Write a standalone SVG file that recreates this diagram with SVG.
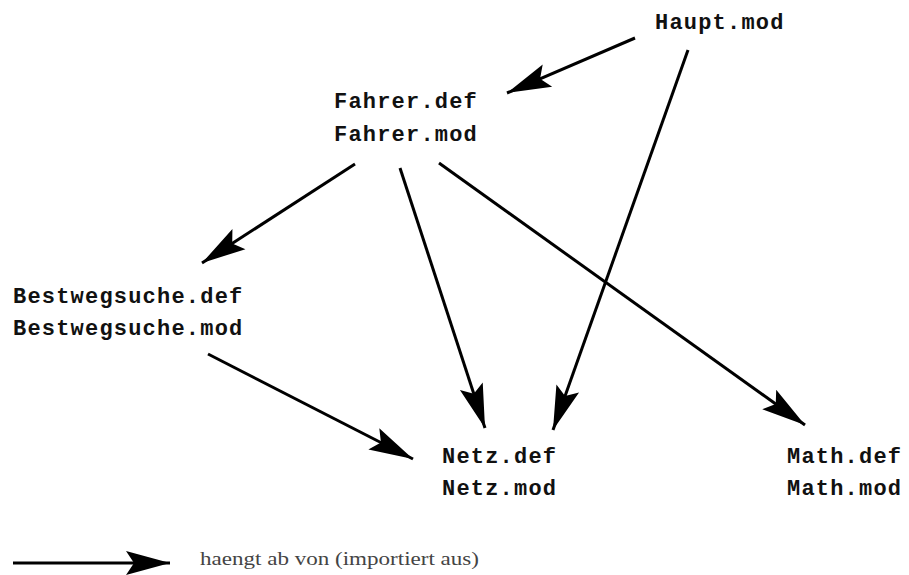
<svg xmlns="http://www.w3.org/2000/svg" width="909" height="575" viewBox="0 0 909 575">
<style>
.n{font-family:"Liberation Mono","Courier New",monospace;font-weight:bold;font-size:22px;letter-spacing:1.2px;fill:#111}
.c line{stroke:#000;stroke-width:3;marker-end:url(#ah)}
.lg{font-family:"Liberation Serif","DejaVu Serif",serif;font-size:19px;fill:#444}
</style>
<defs>
<marker id="ah" markerUnits="userSpaceOnUse" orient="auto" markerWidth="60" markerHeight="30" viewBox="-50 -15 60 30" refX="0" refY="0" overflow="visible">
<path d="M0,0 L-44,-12 L-36,0 L-44,12 Z" fill="#000"/>
</marker>
</defs>
<rect width="909" height="575" fill="#fff"/>
<g class="c" id="connectors">
<line x1="635" y1="38" x2="507" y2="93"/>
<line x1="688" y1="50" x2="553" y2="430"/>
<line x1="355" y1="164" x2="202" y2="263"/>
<line x1="400" y1="168" x2="485" y2="428"/>
<line x1="439" y1="163" x2="805" y2="425"/>
<line x1="208" y1="354" x2="413" y2="459"/>
</g>
<g id="haupt"><text class="n" x="655" y="29">Haupt.mod</text></g>
<g id="fahrer"><text class="n" x="334" y="108">Fahrer.def</text><text class="n" x="334" y="141">Fahrer.mod</text></g>
<g id="bestwegsuche"><text class="n" x="13" y="303">Bestwegsuche.def</text><text class="n" x="13" y="335">Bestwegsuche.mod</text></g>
<g id="netz"><text class="n" x="442" y="463">Netz.def</text><text class="n" x="442" y="495">Netz.mod</text></g>
<g id="math"><text class="n" x="787" y="463">Math.def</text><text class="n" x="787" y="495">Math.mod</text></g>
<g id="legend">
<line x1="13" y1="563" x2="170" y2="563" stroke="#000" stroke-width="3" marker-end="url(#ah)"/>
<text class="lg" x="200" y="565" textLength="279" lengthAdjust="spacingAndGlyphs">haengt ab von (importiert aus)</text>
</g>
</svg>
